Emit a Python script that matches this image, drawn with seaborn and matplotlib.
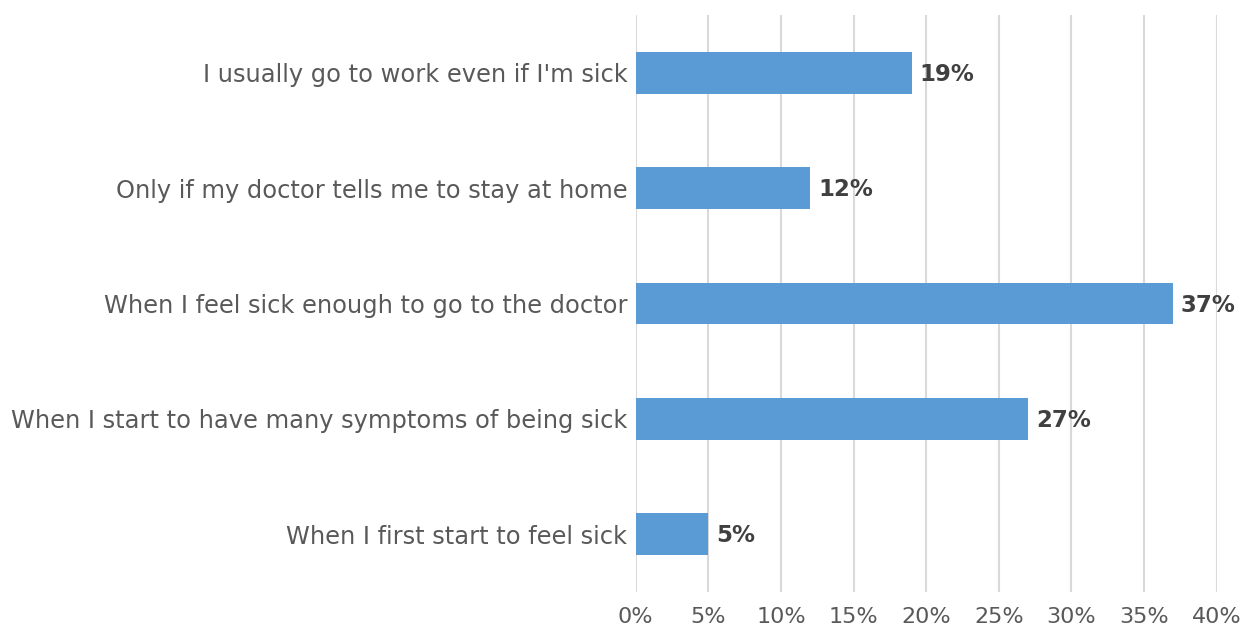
import numpy as np
import pandas as pd
import matplotlib
matplotlib.use("Agg")
import matplotlib.pyplot as plt
import seaborn as sns

categories = [
    "I usually go to work even if I'm sick",
    "Only if my doctor tells me to stay at home",
    "When I feel sick enough to go to the doctor",
    "When I start to have many symptoms of being sick",
    "When I first start to feel sick",
]
values = [19, 12, 37, 27, 5]
ticks = [0, 5, 10, 15, 20, 25, 30, 35, 40]

df = pd.DataFrame({"answer": categories, "pct": values})

sns.set_style("white")
plt.rcParams['font.family'] = ['DejaVu Sans']

fig = plt.figure(figsize=(12.49, 6.29), dpi=100)
ax = fig.add_axes([0.509, 0.059, 0.465, 0.917])

sns.barplot(data=df, x="pct", y="answer", order=categories, color="#5B9BD5",
            saturation=1, width=0.36, linewidth=0, ax=ax, zorder=3)

# value labels right of each bar
for i, v in enumerate(values):
    ax.text(v + 0.55, i + 0.015, f"{v}%", va="center", ha="left", fontsize=16.5,
            fontweight="bold", color="#404040")

ax.set_xlim(0, 40)
ax.set_ylim(4.5, -0.5)
ax.set_xticks(ticks)
ax.set_xticklabels([f"{t}%" for t in ticks])
ax.xaxis.grid(True, color="#D9D9D9", linewidth=1.5, zorder=0)
ax.set_axisbelow(True)
for s in ax.spines.values():
    s.set_visible(False)
ax.tick_params(axis="both", length=0, labelcolor="#595959")
ax.tick_params(axis="x", pad=11, labelsize=16)
ax.tick_params(axis="y", pad=6, labelsize=17.4)
ax.set_xlabel("")
ax.set_ylabel("")

fig.savefig("out.png", dpi=100)
